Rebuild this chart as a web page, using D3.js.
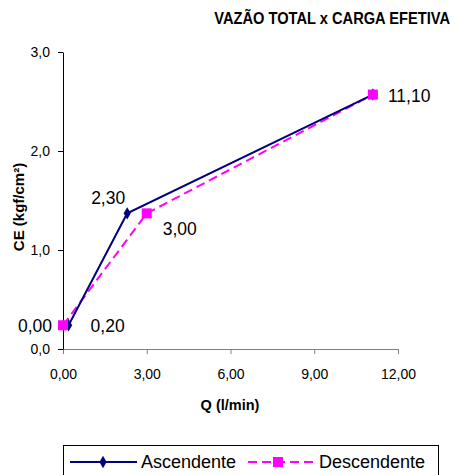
<!DOCTYPE html>
<html><head><meta charset="utf-8">
<script src="https://cdn.jsdelivr.net/npm/d3@7"></script>
<style>body{margin:0;background:#fff}svg{display:block}</style>
</head><body>
<svg id="c" width="455" height="475"></svg>
<script>
const title = "VAZÃO TOTAL x CARGA EFETIVA";
const xTicks = [0, 3, 6, 9, 12];
const yTicks = [0, 1, 2, 3];
const ascQ = [0.2, 2.3, 11.1];
const ascCE = [0.24, 1.37, 2.57];
const descQ = [0.0, 3.0, 11.1];
const descCE = [0.24, 1.37, 2.57];
const seriesNames = ["Ascendente", "Descendente"];

const svg = d3.select("#c");
const font = "Arial, 'Liberation Sans', sans-serif";
const x = d3.scaleLinear().domain([0, 12]).range([63, 398]);
const y = d3.scaleLinear().domain([0, 3]).range([349, 52]);
const fmt2 = d => d.toFixed(2).replace(".", ",");
const fmt1 = d => d.toFixed(1).replace(".", ",");

const t = svg.append("text").attr("x", 0).attr("y", 0).attr("text-anchor", "end")
  .attr("font-family", font).attr("font-weight", "bold").attr("font-size", 16.5).text(title);
const tl = t.node().getComputedTextLength();
t.attr("transform", `translate(450,24) scale(${Math.min(1, 236 / tl)},1)`);

// axes
const gx = svg.append("g").attr("transform", `translate(0,${y(0)})`)
  .call(d3.axisBottom(x).tickValues(xTicks).tickFormat(fmt2).tickSize(5).tickSizeOuter(0));
const gy = svg.append("g").attr("transform", `translate(${x(0)},0)`)
  .call(d3.axisLeft(y).tickValues(yTicks).tickFormat(fmt1).tickSize(5).tickSizeOuter(0));
[gx, gy].forEach(g => {
  g.selectAll("text").attr("font-family", font).attr("font-size", 14).attr("fill", "#000");
  g.selectAll("line,path").attr("stroke", "#000");
});
gx.selectAll("text").attr("y", 0).attr("dy", 0).attr("transform", "translate(0,30)");
gx.select("path").attr("stroke", "#808080");
gx.selectAll("line").attr("stroke", "#808080");
gy.selectAll("text").attr("x", -13).attr("dy", "0.35em");

svg.append("text").attr("x", 230).attr("y", 410).attr("text-anchor", "middle")
  .attr("font-family", font).attr("font-weight", "bold").attr("font-size", 14.5).text("Q (l/min)");
svg.append("text").attr("transform", "translate(24,207) rotate(-90)").attr("text-anchor", "middle")
  .attr("font-family", font).attr("font-weight", "bold").attr("font-size", 15).text("CE (kgf/cm²)");

const line = d3.line().x(d => x(d[0])).y(d => y(d[1]));
const asc = ascQ.map((q, i) => [q, ascCE[i]]);
const desc = descQ.map((q, i) => [q, descCE[i]]);

svg.append("path").datum(desc).attr("d", line).attr("fill", "none")
  .attr("stroke", "#FF00FF").attr("stroke-width", 2).attr("stroke-dasharray", "9,5");
svg.append("path").datum(asc).attr("d", line).attr("fill", "none")
  .attr("stroke", "#000080").attr("stroke-width", 2);

const diamond = d3.symbol().type(d3.symbolDiamond).size(45);
svg.selectAll(".dm").data(asc).enter().append("path")
  .attr("transform", d => `translate(${x(d[0])},${y(d[1])})`).attr("d", diamond).attr("fill", "#000080");
svg.selectAll(".sq").data(desc).enter().append("rect")
  .attr("x", d => x(d[0]) - 5).attr("y", d => y(d[1]) - 5).attr("width", 10).attr("height", 10).attr("fill", "#FF00FF");

// data labels
const lbl = [
  {p: asc[0], dx: 22, dy: 7, a: "start"},
  {p: asc[1], dx: -2, dy: -9, a: "end"},
  {p: desc[0], dx: -11, dy: 7, a: "end"},
  {p: desc[1], dx: 16, dy: 22, a: "start"},
  {p: desc[2], dx: 15, dy: 7, a: "start"}
];
svg.selectAll(".lb").data(lbl).enter().append("text")
  .attr("x", d => x(d.p[0]) + d.dx).attr("y", d => y(d.p[1]) + d.dy)
  .attr("text-anchor", d => d.a).attr("font-family", font).attr("font-size", 17.5).attr("fill", "#000")
  .text(d => fmt2(d.p[0]));

// legend
const lg = svg.append("g");
lg.append("rect").attr("x", 63.5).attr("y", 445.5).attr("width", 375).attr("height", 32)
  .attr("fill", "#fff").attr("stroke", "#000");
lg.append("line").attr("x1", 70).attr("x2", 137).attr("y1", 462).attr("y2", 462).attr("stroke", "#000080").attr("stroke-width", 2);
lg.append("path").attr("transform", "translate(103,462)").attr("d", diamond).attr("fill", "#000080");
lg.append("text").attr("x", 141).attr("y", 468).attr("font-family", font).attr("font-size", 18).text(seriesNames[0]);
lg.append("line").attr("x1", 248).attr("x2", 315).attr("y1", 462).attr("y2", 462).attr("stroke", "#FF00FF")
  .attr("stroke-width", 2).attr("stroke-dasharray", "9,5");
lg.append("rect").attr("x", 273).attr("y", 457).attr("width", 10).attr("height", 10).attr("fill", "#FF00FF");
lg.append("text").attr("x", 319).attr("y", 468).attr("font-family", font).attr("font-size", 18).text(seriesNames[1]);
</script>
</body></html>
